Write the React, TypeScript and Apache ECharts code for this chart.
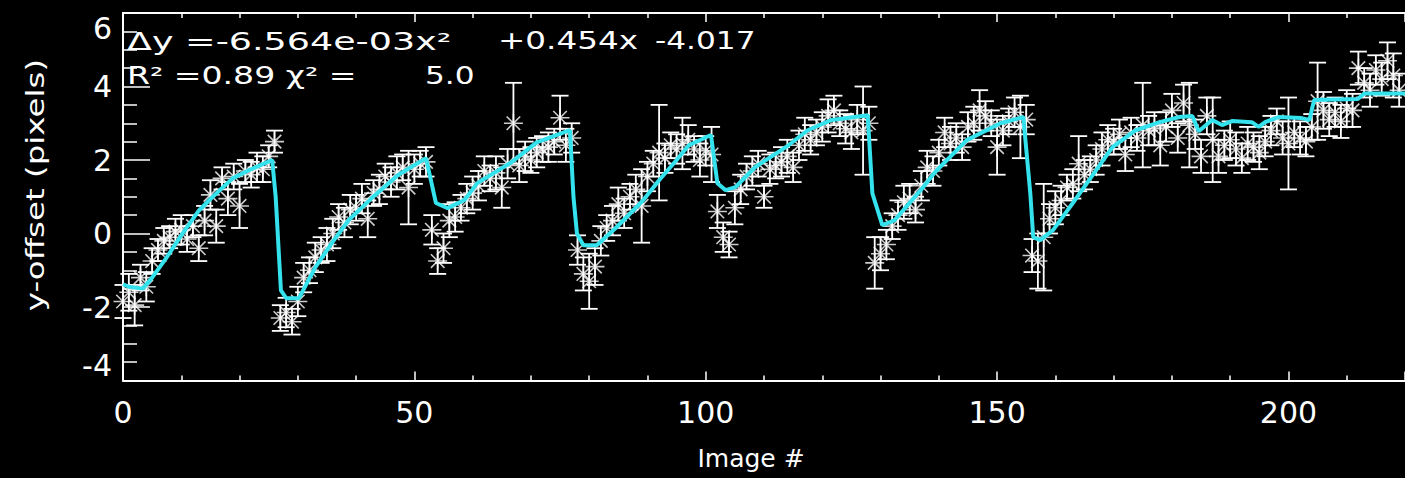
import React, { useEffect, useRef } from "react";
import * as echarts from "echarts";

// Measured y-offset (pixels) for each image, index = image number
const yOffset = [
  -1.85, -1.6, -1.95, -1.2, -1.45, -0.75, -0.45, -0.2, -0.1, 0.05, 0.1, -0.15, 0.2, -0.4, 0.35, 1.05, 0.2, 1.5, 0.95, 1.55, 0.75, 1.7, 1.6, 1.8, 1.75, 2.1, 2.5,
  -2.3, -2.15, -2.4, -1.85, -1.2, -1.0, -0.65, -0.45, -0.3, 0.0, 0.45, 0.3, 0.65, 0.7, 0.95, 0.4, 1.1, 1.2, 1.55, 1.4, 1.65, 1.8, 1.25, 1.75, 1.9, 1.95,
  0.1, -0.75, -0.4, 0.35, 0.45, 0.7, 0.95, 1.1, 1.3, 1.7, 1.5, 1.65, 1.25, 1.9, 3.0, 1.85, 2.1, 2.0, 2.2, 2.3, 2.35, 2.5, 3.15, 2.4, 2.6,
  -0.45, -1.1, -1.3, -0.9, -0.2, 0.15, 0.35, 0.8, 0.55, 1.0, 1.2, 0.75, 1.55, 1.9, 2.2, 2.05, 2.4, 2.3, 2.45, 2.55, 2.3, 2.0, 2.25, 2.15,
  0.6, -0.1, -0.3, 0.7, 1.2, 1.55, 1.7, 1.9, 1.0, 1.75, 1.85, 1.95, 2.1, 1.8, 2.4, 2.7, 2.55, 2.75, 2.9, 3.2, 3.35, 3.0, 2.85, 2.75, 3.1, 2.8,
  3.0, -0.8, -0.55, -0.3, 0.2, 0.5, 0.85, 0.95, 0.65, 1.3, 1.8, 1.7, 2.2, 2.75, 2.45, 2.6, 2.35, 2.9, 3.0, 3.35, 3.2, 3.0, 2.35, 2.8, 3.05, 3.3, 2.9, 3.1,
  -0.6, -0.75, -0.1, 0.4, 0.7, 0.9, 1.25, 1.35, 1.9, 1.6, 1.75, 2.0, 2.3, 2.55, 2.5, 2.7, 2.15, 2.75, 2.6, 2.95, 2.8, 2.85, 2.4, 2.9, 3.35, 2.6, 3.55, 2.95, 2.7,
  2.1, 3.2, 2.55, 2.1, 2.4, 2.55, 2.3, 2.05, 2.45, 2.35, 2.2, 2.5, 2.8, 3.05, 2.6, 2.45, 2.75, 2.6, 2.5, 2.9,
  3.6, 3.35, 3.1, 3.3, 3.05, 3.4, 3.35, 4.5, 4.1, 3.9, 4.45, 4.2, 4.7, 4.3, 3.9,
];

// 1-sigma uncertainty of each measurement
const yErr = [
  0.45, 0.5, 0.55, 0.35, 0.4, 0.35, 0.3, 0.35, 0.3, 0.35, 0.4, 0.35, 0.3, 0.35, 0.4, 0.4, 0.45, 0.3, 0.45, 0.35, 0.6, 0.3, 0.35, 0.4, 0.35, 0.3, 0.3,
  0.35, 0.4, 0.35, 0.4, 0.4, 0.35, 0.4, 0.35, 0.45, 0.4, 0.35, 0.4, 0.4, 0.35, 0.4, 0.5, 0.35, 0.4, 0.35, 0.4, 0.45, 0.35, 1.0, 0.4, 0.35, 0.4,
  0.4, 0.35, 0.4, 0.45, 0.4, 0.35, 0.4, 0.45, 0.4, 0.4, 0.35, 0.45, 0.55, 0.4, 1.1, 0.45, 0.4, 0.35, 0.4, 0.35, 0.4, 0.35, 0.6, 0.45, 0.4,
  0.4, 0.45, 0.75, 0.5, 0.4, 0.35, 0.4, 0.45, 0.4, 0.35, 0.4, 1.0, 0.4, 0.35, 1.3, 0.4, 0.35, 0.4, 0.7, 0.4, 0.35, 0.45, 0.4, 0.75,
  0.45, 0.4, 0.35, 0.45, 0.4, 0.35, 0.4, 0.35, 0.3, 0.4, 0.35, 0.4, 0.45, 0.4, 0.4, 0.45, 0.4, 0.35, 0.4, 0.45, 0.4, 0.35, 0.4, 0.45, 0.4, 1.2,
  0.45, 0.7, 0.45, 0.4, 0.35, 0.4, 0.45, 0.4, 0.35, 0.4, 0.45, 0.4, 0.35, 0.4, 0.45, 0.4, 0.35, 0.4, 0.45, 0.55, 0.4, 0.35, 0.75, 0.4, 0.35, 0.4, 0.85, 0.4,
  0.45, 0.75, 1.45, 0.4, 0.45, 0.4, 0.35, 0.4, 0.75, 0.4, 0.35, 0.4, 0.45, 0.4, 0.35, 0.4, 0.45, 0.4, 0.35, 1.15, 0.4, 0.45, 0.55, 0.4, 0.45, 0.4, 0.5, 1.15, 0.4,
  0.45, 0.5, 1.15, 0.45, 0.4, 0.5, 0.45, 0.4, 0.45, 0.4, 0.45, 0.4, 0.4, 0.35, 0.45, 1.25, 0.4, 0.45, 0.4, 0.35,
  1.05, 0.5, 0.45, 0.4, 0.45, 0.5, 0.45, 0.45, 0.4, 0.45, 0.4, 0.45, 0.5, 0.6, 0.45,
];

// Fitted model curve (image #, y-offset)
const fitX = [
  0, 1, 3.4, 5, 7.5, 10, 13, 15.4, 18.8, 21.6, 25.6, 26.2, 27.1, 28, 30.2, 33, 35.8, 38.7, 42.6, 47.2, 52,
  53.7, 55.7, 58.6, 60.8, 66.4, 71, 76.7, 77.3, 77.9, 79, 81.3, 84.7, 89.3, 92, 95, 97.1, 100.9,
  102, 103.4, 105.1, 108.5, 114.2, 117.5, 121.6, 127.8, 128.6, 130.3, 132.4, 136.9, 139.2, 141.4, 144.8, 150.6, 154.5,
  155.7, 156.2, 157.4, 159.6, 163, 166.4, 169.8, 173.8, 177.9, 181.3, 183.5, 184.6, 186.9, 188.6, 190.3, 193.7, 194.9,
  196, 198.3, 202.2, 203.6, 204.4, 211.9, 213, 220,
];
const fitY = [
  -1.38, -1.45, -1.5, -1.2, -0.65, -0.05, 0.62, 1.0, 1.5, 1.72, 2.0, 1.0, -1.55, -1.76, -1.76, -0.92, -0.27, 0.36, 0.95, 1.59, 2.05,
  0.83, 0.69, 0.91, 1.37, 1.91, 2.48, 2.81, 1.0, 0.0, -0.32, -0.32, 0.17, 0.91, 1.45, 2.0, 2.4, 2.68,
  1.37, 1.18, 1.26, 1.81, 2.4, 2.81, 3.09, 3.22, 1.09, 0.23, 0.36, 1.18, 1.64, 2.0, 2.54, 3.0, 3.17,
  1.09, -0.1, -0.18, 0.09, 0.83, 1.59, 2.35, 2.81, 3.03, 3.17, 3.2, 2.78, 3.09, 2.95, 3.06, 3.03, 2.9,
  3.03, 3.17, 3.14, 3.09, 3.63, 3.66, 3.81, 3.81,
];

// Fit summary: quadratic terms and goodness of fit
const fitTerms = ["Δy =-6.564e-03x²", "+0.454x", "-4.017"];
const fitStats = "R² =0.89 χ² =";
const chiValue = "5.0";
const xTitle = "Image #";
const yTitle = "y-offset (pixels)";

const FONT = '"DejaVu Sans", sans-serif';
const WHITE = "#ffffff";
const CYAN = "#33e2ec";

export default function App() {
  const ref = useRef<HTMLDivElement>(null);

  useEffect(() => {
    document.body.style.margin = "0";
    document.body.style.background = "#000";
    const chart = echarts.init(ref.current as HTMLDivElement, null, { renderer: "svg" });

    const points = yOffset.map((y, i) => [i, y, yErr[i]]);
    const fit = fitX.map((x, i) => [x, fitY[i]]);

    const xAxisBase = (position: "bottom" | "top", labels: boolean) => ({
      type: "value",
      position,
      min: 0,
      max: 220,
      interval: 50,
      axisLine: { show: true, onZero: false, lineStyle: { color: WHITE, width: 2 } },
      axisTick: { show: true, inside: true, length: 9, lineStyle: { color: WHITE, width: 1.5 } },
      minorTick: { show: true, splitNumber: 5, length: 5, lineStyle: { color: WHITE, width: 1.5 } },
      splitLine: { show: false },
      minorSplitLine: { show: false },
      axisLabel: {
        show: labels,
        color: WHITE,
        fontFamily: FONT,
        fontSize: 30,
        margin: 17,
        showMaxLabel: false,
      },
    });

    const errorBars = (params: any, api: any) => {
      const x = api.value(0);
      const y = api.value(1);
      const e = api.value(2);
      const top = api.coord([x, y + e]);
      const bot = api.coord([x, y - e]);
      const w = 8.5;
      const style = { stroke: WHITE, lineWidth: 1.8 };
      return {
        type: "group",
        children: [
          { type: "line", shape: { x1: top[0], y1: top[1], x2: bot[0], y2: bot[1] }, style },
          { type: "line", shape: { x1: top[0] - w, y1: top[1], x2: top[0] + w, y2: top[1] }, style },
          { type: "line", shape: { x1: bot[0] - w, y1: bot[1], x2: bot[0] + w, y2: bot[1] }, style },
        ],
      };
    };

    const textStyle = (text: string, size: number) => ({
      text,
      fill: WHITE,
      font: `${size}px ${FONT}`,
      textAlign: "left",
      textVerticalAlign: "middle",
    });

    chart.setOption({
      animation: false,
      backgroundColor: "#000",
      grid: { left: 123, top: 13, width: 1291, height: 367.5 },
      xAxis: [xAxisBase("bottom", true), xAxisBase("top", false)],
      yAxis: {
        type: "value",
        min: -4,
        max: 6,
        interval: 2,
        axisLine: { show: true, onZero: false, lineStyle: { color: WHITE, width: 2 } },
        axisTick: { show: true, inside: true, length: 27, lineStyle: { color: WHITE, width: 1.5 } },
        minorTick: { show: true, splitNumber: 4, length: 14, lineStyle: { color: WHITE, width: 1.5 } },
        splitLine: { show: false },
        minorSplitLine: { show: false },
        axisLabel: {
          color: WHITE,
          fontFamily: FONT,
          fontSize: 30,
          margin: 11,
          verticalAlignMaxLabel: "top",
          verticalAlignMinLabel: "bottom",
        },
      },
      graphic: [
        { type: "text", x: 127, y: 41, scaleX: 1.52, z: 100, style: textStyle(fitTerms[0], 24) },
        { type: "text", x: 498, y: 41, scaleX: 1.36, z: 100, style: textStyle(fitTerms[1], 24) },
        { type: "text", x: 655, y: 41, scaleX: 1.3, z: 100, style: textStyle(fitTerms[2], 24) },
        { type: "text", x: 127, y: 76, scaleX: 1.38, z: 100, style: textStyle(fitStats, 24) },
        { type: "text", x: 425, y: 76, scaleX: 1.3, z: 100, style: textStyle(chiValue, 24) },
        {
          type: "text",
          x: 751,
          y: 458,
          z: 100,
          style: { ...textStyle(xTitle, 25), textAlign: "center" },
        },
        {
          type: "text",
          x: 35,
          y: 185,
          rotation: Math.PI / 2,
          scaleX: 1.3,
          z: 100,
          style: { ...textStyle(yTitle, 25), textAlign: "center" },
        },
      ],
      series: [
        {
          type: "custom",
          renderItem: errorBars,
          data: points,
          encode: { x: 0, y: 1 },
          z: 2,
          silent: true,
        },
        {
          type: "scatter",
          data: points,
          symbol: "path://M0 8L16 8M8 0L8 16M2.3 2.3L13.7 13.7M2.3 13.7L13.7 2.3",
          symbolSize: 19,
          itemStyle: { color: "rgba(0,0,0,0)", borderColor: WHITE, borderWidth: 1.6 },
          z: 3,
          silent: true,
        },
        {
          type: "line",
          data: fit,
          showSymbol: false,
          lineStyle: { color: CYAN, width: 4 },
          z: 4,
          silent: true,
        },
      ],
    });

    return () => chart.dispose();
  }, []);

  return (
    <div
      ref={ref}
      style={{ position: "fixed", left: 0, top: 0, width: 1405, height: 478, background: "#000" }}
    />
  );
}
